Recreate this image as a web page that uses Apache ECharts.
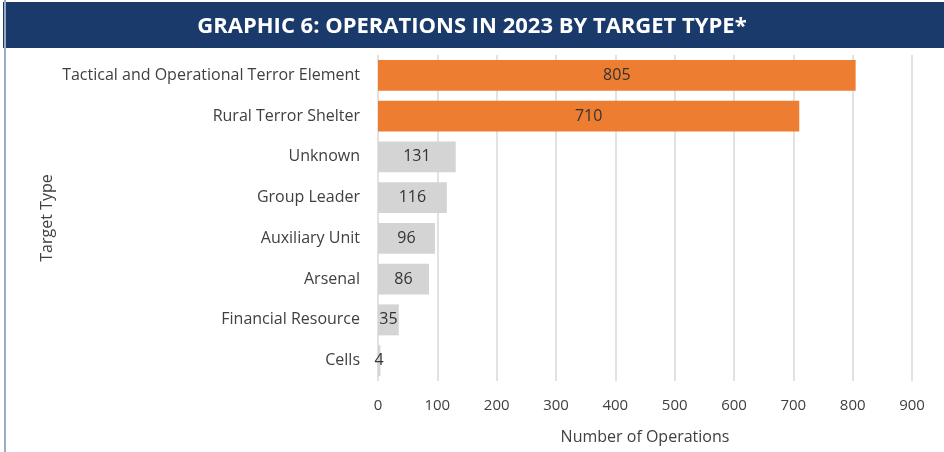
<!DOCTYPE html>
<html>
<head>
<meta charset="utf-8">
<script src="https://cdn.jsdelivr.net/npm/echarts@6/dist/echarts.min.js"></script>
<style>
  html, body { margin: 0; padding: 0; background: #fff; }
  #chart { width: 944px; height: 452px; }
</style>
</head>
<body>
<div id="chart"></div>
<script>
// categories listed bottom to top (category axis starts at the bottom)
const targetTypes = [
  "Cells",
  "Financial Resource",
  "Arsenal",
  "Auxiliary Unit",
  "Group Leader",
  "Unknown",
  "Rural Terror Shelter",
  "Tactical and Operational Terror Element"
];
const operationCounts = [4, 35, 86, 96, 116, 131, 710, 805];
const highlightTypes = ["Rural Terror Shelter", "Tactical and Operational Terror Element"];
const xTicks = [0, 100, 200, 300, 400, 500, 600, 700, 800, 900];

const myChart = echarts.init(document.getElementById("chart"));

const option = {
  animation: false,
  textStyle: { fontFamily: "Open Sans" },
  graphic: [
    {
      type: "rect",
      shape: { x: 3, y: 2, width: 944, height: 46 },
      style: { fill: "#1b3a6c" },
      z: 0
    },
    {
      type: "line",
      shape: { x1: 5, y1: 0, x2: 5, y2: 452 },
      style: { stroke: "#9aabc6", lineWidth: 2 }
    }
  ],
  title: {
    text: "GRAPHIC 6: OPERATIONS IN 2023 BY TARGET TYPE*",
    left: "center",
    top: 11,
    textStyle: {
      color: "#ffffff",
      fontSize: 22,
      fontWeight: "bold",
      fontFamily: "Open Sans"
    }
  },
  grid: {
    left: 378,
    right: 32,
    top: 55,
    bottom: 71
  },
  xAxis: {
    type: "value",
    min: xTicks[0],
    max: xTicks[xTicks.length - 1],
    interval: 100,
    name: "Number of Operations",
    nameLocation: "middle",
    nameGap: 48,
    nameTextStyle: { fontSize: 16, color: "#404040" },
    axisLine: { show: false },
    axisTick: { show: false },
    axisLabel: { fontSize: 15, color: "#404040", margin: 17 },
    splitLine: { lineStyle: { color: "#d9d9d9", width: 1.5 } }
  },
  yAxis: {
    type: "category",
    data: targetTypes,
    name: "Target Type",
    nameLocation: "middle",
    nameGap: 323,
    nameMoveOverlap: false,
    nameRotate: 90,
    nameTextStyle: { fontSize: 16, color: "#404040" },
    axisLine: { show: false },
    axisTick: { show: false },
    axisLabel: { fontSize: 16, color: "#404040", margin: 18 }
  },
  series: [
    {
      name: "Operations",
      type: "bar",
      barCategoryGap: "24%",
      data: operationCounts.map((v, i) => ({
        value: v,
        itemStyle: {
          color: highlightTypes.includes(targetTypes[i]) ? "#ed7d31" : "#d4d4d4"
        }
      })),
      label: {
        show: true,
        position: "inside",
        color: "#333333",
        fontSize: 16
      }
    }
  ]
};

myChart.setOption(option);
</script>
</body>
</html>
